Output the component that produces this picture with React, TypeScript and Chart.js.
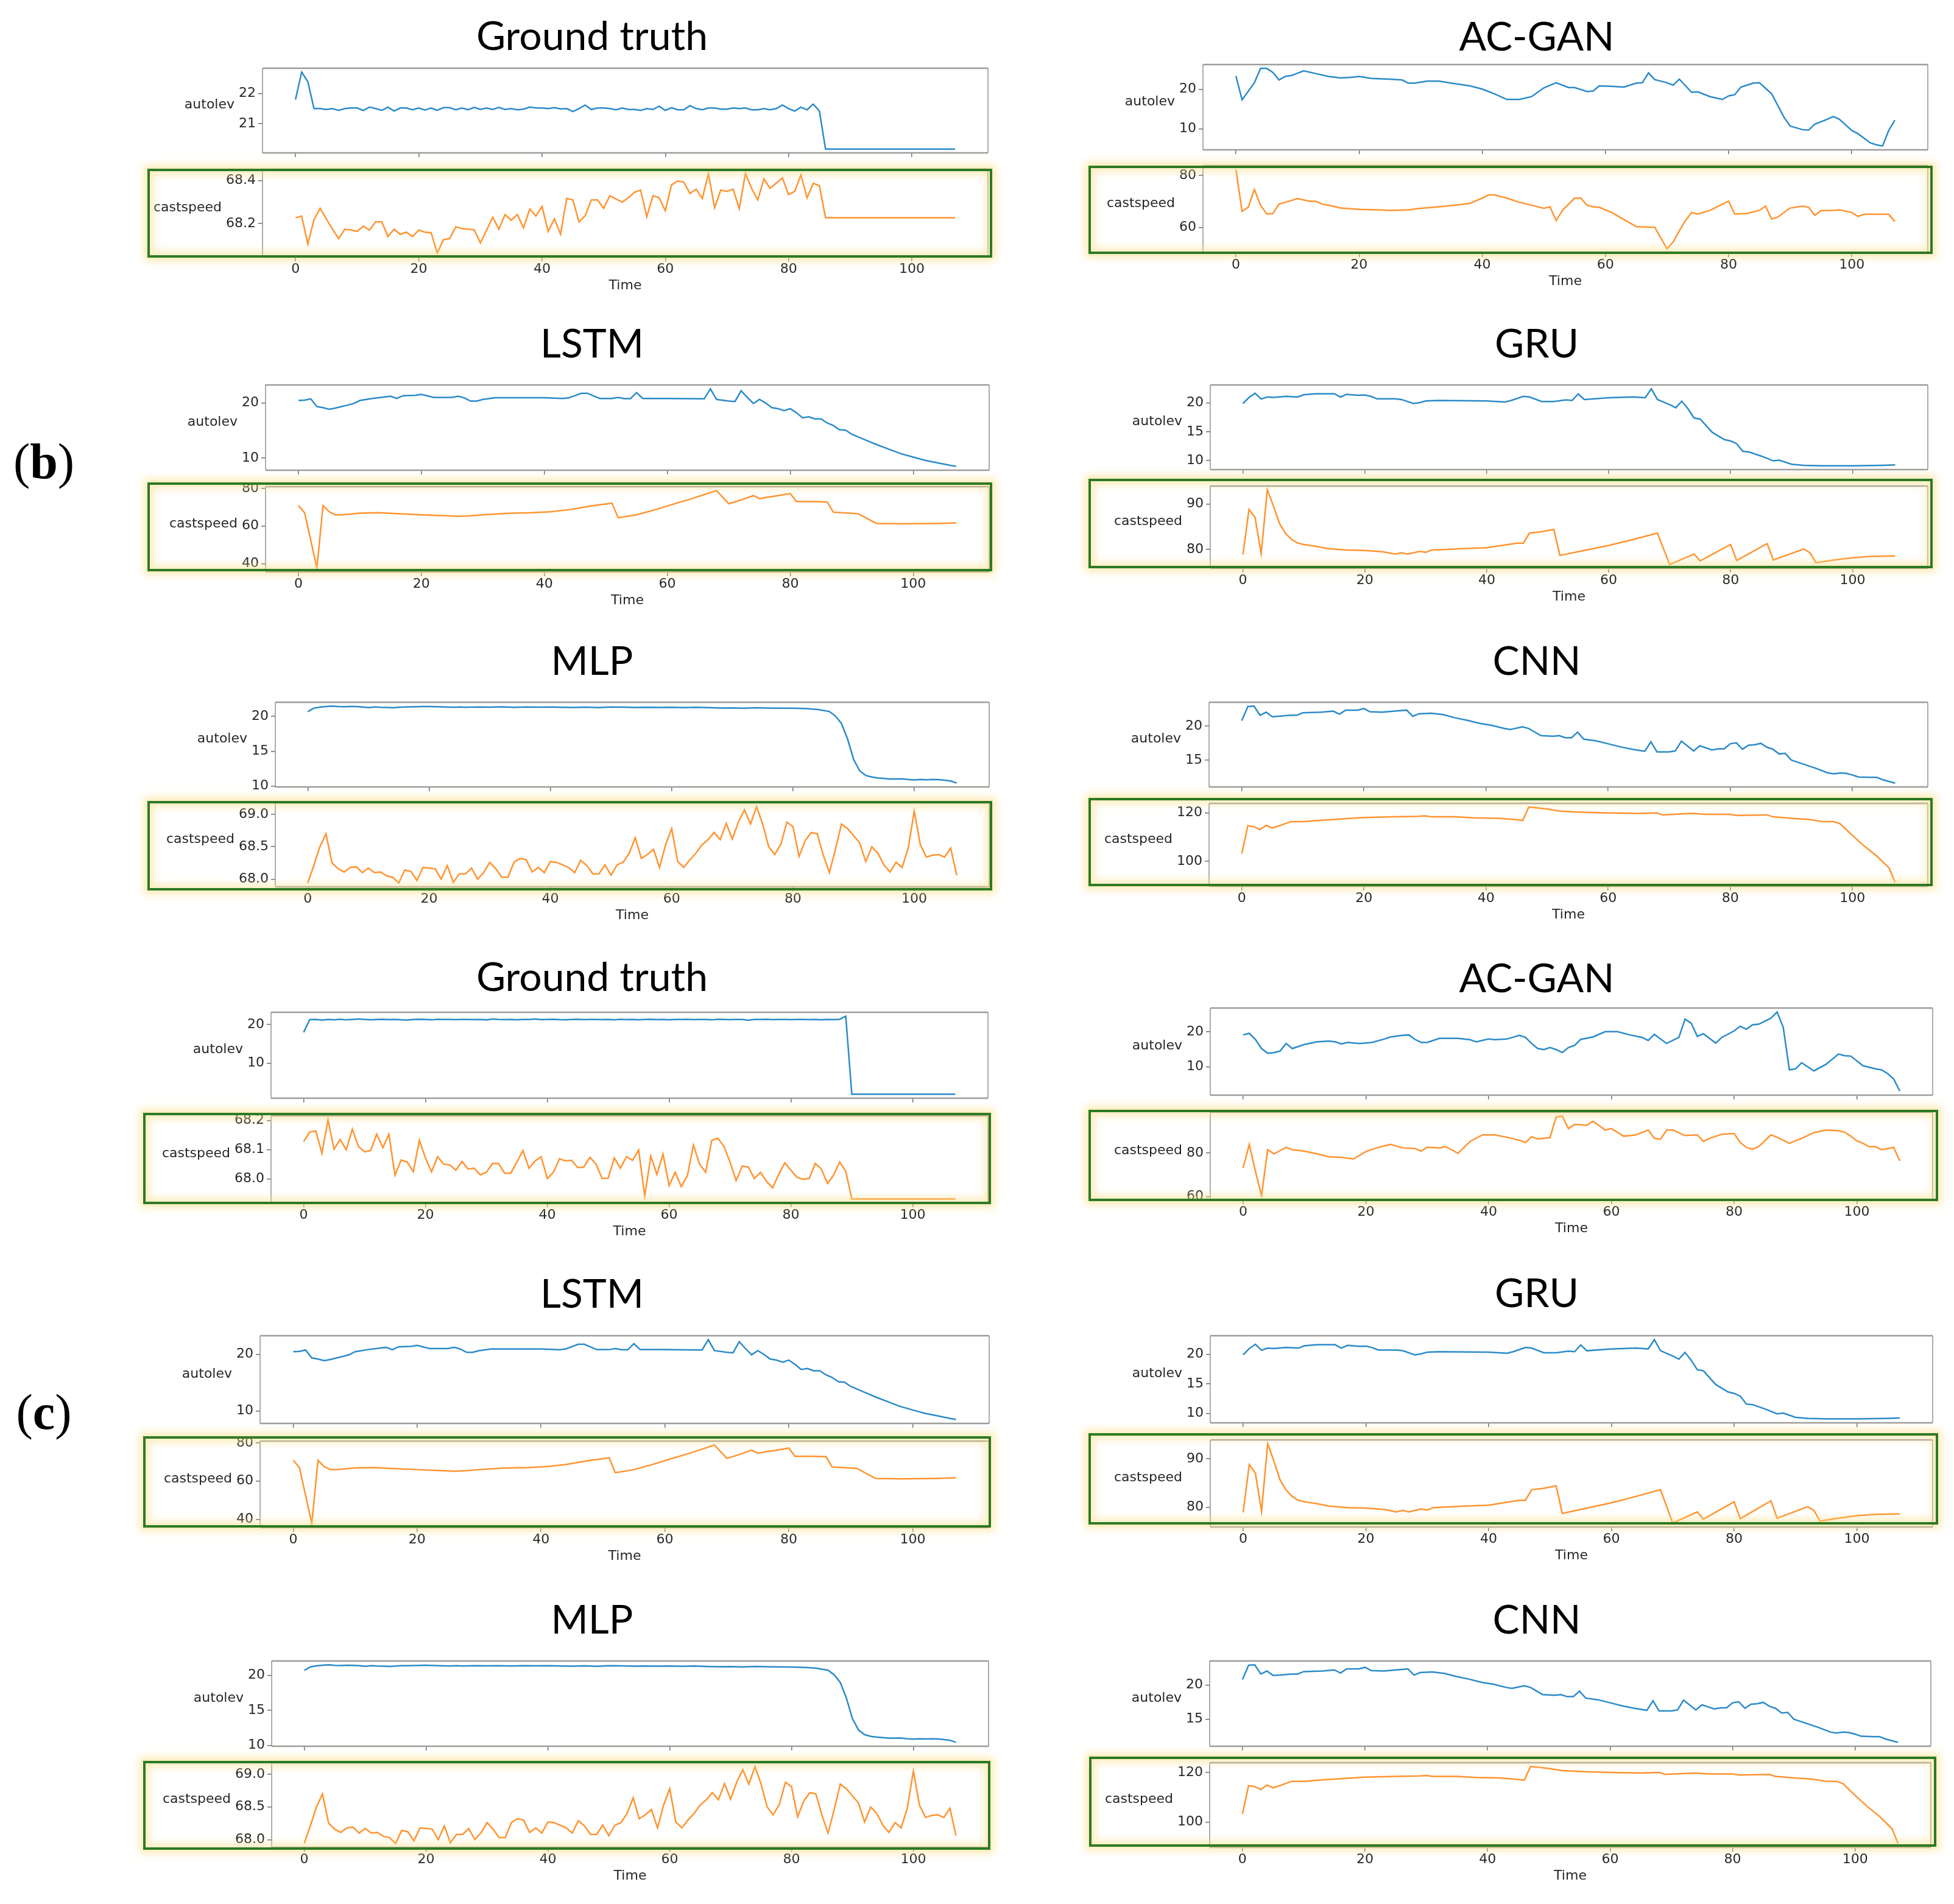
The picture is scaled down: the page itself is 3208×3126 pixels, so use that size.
import React, { useEffect, useRef } from 'react';
import { Chart, registerables } from 'chart.js';

Chart.register(...registerables);
Chart.defaults.font.family = '"DejaVu Sans", sans-serif';

type Pt = [number, number];

// ---------- shared axis data ----------
const TIME_TICKS = [0, 20, 40, 60, 80, 100];
const X_MIN = -5.35;
const X_MAX = 112.35;

// ---------- (b) Ground truth ----------
const GT_B_AUTOLEV: Pt[] = [
  [0, 21.8], [1, 22.72], [2, 22.4], [3, 21.5], [4, 21.5], [5, 21.47], [6, 21.5], [7, 21.44], [8, 21.5], [9, 21.52],
  [10, 21.52], [11, 21.44], [12, 21.55], [13, 21.5], [14, 21.44], [15, 21.55], [16, 21.42], [17, 21.52], [18, 21.52], [19, 21.46],
  [20, 21.52], [21, 21.45], [22, 21.52], [23, 21.44], [24, 21.53], [25, 21.53], [26, 21.46], [27, 21.52], [28, 21.46], [29, 21.54],
  [30, 21.47], [31, 21.52], [32, 21.47], [33, 21.54], [34, 21.47], [35, 21.5], [36, 21.46], [37, 21.48], [38, 21.55], [39, 21.52],
  [40, 21.52], [41, 21.5], [42, 21.53], [43, 21.49], [44, 21.5], [45, 21.4], [46, 21.5], [47, 21.62], [48, 21.47], [49, 21.52],
  [50, 21.52], [51, 21.5], [52, 21.46], [53, 21.52], [54, 21.47], [55, 21.47], [56, 21.44], [57, 21.5], [58, 21.47], [59, 21.58],
  [60, 21.44], [61, 21.53], [62, 21.46], [63, 21.46], [64, 21.6], [65, 21.5], [66, 21.46], [67, 21.52], [68, 21.52], [69, 21.48],
  [70, 21.48], [71, 21.52], [72, 21.5], [73, 21.52], [74, 21.46], [75, 21.46], [76, 21.5], [77, 21.46], [78, 21.5], [79, 21.62],
  [80, 21.5], [81, 21.42], [82, 21.55], [83, 21.46], [84, 21.65], [85, 21.42], [86, 20.15], [107, 20.15],
];
const GT_B_CAST: Pt[] = [
  [0, 68.227], [1, 68.235], [2, 68.105], [3, 68.218], [4, 68.271], [5, 68.222], [6, 68.174], [7, 68.13], [8, 68.174], [9, 68.17],
  [10, 68.164], [11, 68.188], [12, 68.17], [13, 68.208], [14, 68.208], [15, 68.14], [16, 68.174], [17, 68.15], [18, 68.16], [19, 68.14],
  [20, 68.17], [21, 68.16], [22, 68.158], [23, 68.063], [24, 68.125], [25, 68.13], [26, 68.185], [27, 68.177], [28, 68.174], [29, 68.171],
  [30, 68.11], [31, 68.17], [32, 68.23], [33, 68.174], [34, 68.242], [35, 68.216], [36, 68.242], [37, 68.18], [38, 68.268], [39, 68.235],
  [40, 68.28], [41, 68.164], [42, 68.222], [43, 68.151], [44, 68.317], [45, 68.31], [46, 68.208], [47, 68.237], [48, 68.31], [49, 68.31],
  [50, 68.271], [51, 68.33], [52, 68.315], [53, 68.3], [54, 68.32], [55, 68.346], [56, 68.356], [57, 68.232], [58, 68.33], [59, 68.32],
  [60, 68.26], [61, 68.38], [62, 68.398], [63, 68.393], [64, 68.34], [65, 68.36], [66, 68.317], [67, 68.432], [68, 68.274], [69, 68.356],
  [70, 68.35], [71, 68.36], [72, 68.27], [73, 68.434], [74, 68.364], [75, 68.31], [76, 68.408], [77, 68.364], [78, 68.388], [79, 68.413],
  [80, 68.335], [81, 68.35], [82, 68.427], [83, 68.32], [84, 68.388], [85, 68.376], [86, 68.227], [107, 68.227],
];

// ---------- (b) AC-GAN ----------
const ACGAN_B_AUTOLEV: Pt[] = [
  [0, 23.3], [1, 17.3], [3, 21.6], [4, 25.2], [5, 25.2], [6, 24.2], [7, 22.3], [8, 23.2], [9, 23.4], [11, 24.6],
  [13, 23.9], [15, 23.2], [17, 22.8], [19, 23.0], [20, 23.2], [22, 22.7], [25, 22.5], [27, 22.3], [28, 21.5], [29, 21.5],
  [31, 22.0], [33, 22.0], [35, 21.5], [38, 20.8], [40, 20.0], [42, 18.8], [44, 17.4], [46, 17.4], [48, 18.1], [50, 20.3],
  [52, 21.6], [54, 20.4], [55, 20.4], [57, 19.4], [58, 19.5], [59, 20.8], [61, 20.7], [63, 20.5], [65, 21.5], [66, 21.6],
  [67, 24.1], [68, 22.4], [70, 21.6], [71, 21.0], [72, 22.5], [74, 19.2], [75, 19.3], [77, 18.1], [79, 17.4], [80, 18.3],
  [81, 18.6], [82, 20.5], [84, 21.5], [85, 21.6], [87, 18.8], [89, 12.9], [90, 10.7], [92, 9.8], [93, 9.7], [94, 11.2],
  [96, 12.4], [97, 13.1], [98, 12.4], [100, 9.6], [101, 8.8], [103, 6.5], [104, 6.0], [105, 5.7], [106, 9.6], [107, 12.2],
];
const ACGAN_B_CAST: Pt[] = [
  [0, 82.2], [1, 66.2], [2, 67.8], [3, 74.6], [4, 68.6], [5, 65.2], [6, 65.4], [7, 69.0], [9, 70.4], [10, 71.1],
  [12, 70.1], [13, 70.1], [14, 69.0], [15, 68.6], [17, 67.5], [20, 67.0], [23, 66.8], [25, 66.6], [28, 66.8], [30, 67.4],
  [33, 68.0], [36, 68.7], [38, 69.3], [40, 71.3], [41, 72.5], [42, 72.5], [44, 71.3], [46, 69.7], [48, 68.6], [50, 67.4],
  [51, 68.0], [52, 62.7], [53, 66.6], [55, 71.3], [56, 71.3], [57, 68.6], [58, 68.0], [59, 67.8], [61, 65.8], [63, 63.1],
  [65, 60.4], [67, 60.2], [68, 60.2], [70, 51.9], [71, 54.5], [72, 58.8], [73, 62.7], [74, 65.8], [75, 65.2], [77, 66.6],
  [79, 69.0], [80, 70.1], [81, 65.2], [83, 65.4], [85, 66.6], [86, 68.2], [87, 63.3], [88, 64.1], [90, 67.5], [92, 68.2],
  [93, 67.8], [94, 64.7], [95, 66.5], [97, 66.6], [98, 66.8], [100, 65.8], [101, 64.3], [102, 65.1], [104, 65.1], [106, 65.1],
  [107, 62.3],
];

// ---------- LSTM ----------
const LSTM_AUTOLEV: Pt[] = [
  [0, 20.44], [1, 20.5], [2, 20.74], [3, 19.33], [4, 19.15], [5, 18.85], [6, 19.07], [7, 19.33], [8, 19.6], [9, 19.9],
  [10, 20.44], [12, 20.8], [14, 21.07], [15, 21.2], [16, 20.8], [17, 21.3], [19, 21.37], [20, 21.55], [21, 21.26], [22, 21.0],
  [25, 21.0], [26, 21.2], [27, 20.9], [28, 20.33], [29, 20.33], [30, 20.63], [32, 20.93], [35, 20.93], [40, 20.93], [43, 20.8],
  [44, 20.93], [46, 21.74], [47, 21.74], [49, 20.8], [51, 20.8], [52, 21.0], [53, 20.78], [54, 20.78], [55, 21.85], [56, 20.8],
  [60, 20.8], [66, 20.74], [67, 22.55], [68, 20.63], [70, 20.33], [71, 20.26], [72, 22.2], [73, 21.0], [74, 19.9], [75, 20.63],
  [76, 19.96], [77, 19.15], [78, 18.96], [79, 18.6], [80, 18.96], [81, 18.22], [82, 17.3], [83, 17.48], [84, 17.1], [85, 17.1],
  [86, 16.37], [87, 15.9], [88, 15.15], [89, 15.07], [90, 14.33], [92, 13.4], [94, 12.48], [96, 11.63], [98, 10.81], [100, 10.19],
  [102, 9.59], [104, 9.15], [106, 8.7], [107, 8.52],
];
const LSTM_CAST: Pt[] = [
  [0, 70.9], [1, 67.1], [3, 37.7], [4, 70.9], [5, 67.6], [6, 66.0], [7, 66.0], [10, 66.9], [13, 67.1], [16, 66.6],
  [20, 66.0], [24, 65.5], [26, 65.2], [28, 65.5], [30, 66.0], [34, 66.8], [38, 67.1], [41, 67.6], [44, 68.7], [46, 69.8],
  [48, 70.9], [50, 71.7], [51, 72.2], [52, 64.4], [55, 66.0], [58, 68.7], [61, 71.7], [64, 74.6], [67, 77.8], [68, 78.9],
  [70, 71.9], [72, 73.9], [74, 76.2], [75, 74.6], [76, 75.2], [78, 76.2], [80, 77.3], [81, 73.0], [84, 73.0], [86, 72.8],
  [87, 67.4], [90, 66.8], [91, 66.6], [92, 64.9], [94, 61.4], [98, 61.2], [104, 61.4], [107, 61.7],
];

// ---------- GRU ----------
const GRU_AUTOLEV: Pt[] = [
  [0, 19.9], [1, 20.96], [2, 21.68], [3, 20.68], [4, 21.04], [5, 20.96], [7, 21.14], [9, 21.04], [10, 21.43], [12, 21.6],
  [15, 21.6], [16, 21.04], [17, 21.5], [19, 21.32], [20, 21.39], [21, 21.14], [22, 20.71], [25, 20.71], [26, 20.6], [28, 19.9],
  [29, 20.07], [30, 20.36], [32, 20.43], [40, 20.36], [43, 20.18], [44, 20.43], [46, 21.14], [47, 21.04], [49, 20.25], [51, 20.25],
  [53, 20.54], [54, 20.43], [55, 21.57], [56, 20.6], [60, 20.9], [64, 21.04], [66, 20.9], [67, 22.46], [68, 20.6], [70, 19.71],
  [71, 19.18], [72, 20.32], [73, 19.0], [74, 17.39], [75, 17.21], [77, 14.89], [79, 13.64], [80, 13.4], [81, 12.93], [82, 11.6],
  [83, 11.5], [85, 10.79], [87, 9.96], [88, 10.07], [90, 9.36], [92, 9.18], [95, 9.1], [100, 9.1], [105, 9.18], [107, 9.25],
];
const GRU_CAST: Pt[] = [
  [0, 78.9], [1, 88.8], [2, 87.0], [3, 79.1], [4, 93.1], [5, 89.6], [6, 85.7], [7, 83.5], [8, 82.2], [9, 81.4],
  [10, 81.1], [12, 80.7], [14, 80.2], [17, 79.9], [20, 79.8], [23, 79.5], [25, 79.0], [26, 79.3], [27, 79.0], [29, 79.6],
  [30, 79.4], [31, 79.9], [33, 80.0], [36, 80.2], [40, 80.4], [42, 80.8], [45, 81.4], [46, 81.4], [47, 83.6], [49, 83.9],
  [51, 84.4], [52, 78.7], [56, 79.8], [60, 80.9], [64, 82.2], [68, 83.6], [70, 76.7], [74, 79.0], [75, 77.5], [80, 81.1],
  [81, 77.6], [86, 81.3], [87, 77.7], [92, 80.1], [93, 79.3], [94, 77.1], [97, 77.7], [100, 78.2], [103, 78.5], [107, 78.6],
];

// ---------- MLP ----------
const MLP_AUTOLEV: Pt[] = [
  [0, 20.68], [1, 21.18], [2, 21.32], [3, 21.42], [4, 21.47], [5, 21.4], [6, 21.38], [7, 21.42], [8, 21.4], [9, 21.35],
  [10, 21.26], [11, 21.34], [12, 21.3], [13, 21.28], [14, 21.24], [15, 21.3], [16, 21.34], [17, 21.36], [18, 21.38], [19, 21.4],
  [20, 21.42], [22, 21.36], [24, 21.3], [25, 21.34], [26, 21.3], [28, 21.34], [30, 21.32], [32, 21.36], [34, 21.3], [36, 21.34],
  [38, 21.32], [40, 21.34], [42, 21.3], [44, 21.28], [46, 21.32], [48, 21.26], [50, 21.34], [52, 21.32], [54, 21.28], [56, 21.3],
  [58, 21.28], [60, 21.3], [62, 21.26], [64, 21.3], [66, 21.25], [68, 21.2], [70, 21.22], [72, 21.18], [74, 21.24], [76, 21.2],
  [78, 21.18], [80, 21.16], [82, 21.12], [84, 21.0], [86, 20.7], [87, 20.05], [88, 18.97], [89, 16.76], [90, 13.82], [91, 12.2],
  [92, 11.53], [93, 11.3], [94, 11.18], [96, 11.03], [98, 11.05], [99, 10.95], [100, 10.9], [101, 10.95], [102, 10.92], [103, 10.95],
  [104, 10.93], [105, 10.85], [106, 10.74], [107, 10.44],
];
const MLP_CAST: Pt[] = [
  [0, 67.94], [1, 68.21], [2, 68.5], [3, 68.7], [4, 68.25], [5, 68.16], [6, 68.11], [7, 68.18], [8, 68.19], [9, 68.1],
  [10, 68.17], [11, 68.1], [12, 68.11], [13, 68.05], [14, 68.03], [15, 67.94], [16, 68.14], [17, 68.12], [18, 67.98], [19, 68.18],
  [20, 68.17], [21, 68.16], [22, 68.0], [23, 68.21], [24, 67.95], [25, 68.08], [26, 68.08], [27, 68.17], [28, 68.0], [29, 68.1],
  [30, 68.26], [31, 68.16], [32, 68.03], [33, 68.03], [34, 68.26], [35, 68.32], [36, 68.3], [37, 68.11], [38, 68.18], [39, 68.1],
  [40, 68.27], [41, 68.26], [42, 68.22], [43, 68.18], [44, 68.1], [45, 68.29], [46, 68.21], [47, 68.08], [48, 68.08], [49, 68.22],
  [50, 68.06], [51, 68.22], [52, 68.26], [53, 68.4], [54, 68.64], [55, 68.32], [56, 68.38], [57, 68.46], [58, 68.18], [59, 68.53],
  [60, 68.78], [61, 68.27], [62, 68.18], [63, 68.3], [64, 68.4], [65, 68.53], [66, 68.61], [67, 68.72], [68, 68.61], [69, 68.86],
  [70, 68.62], [71, 68.88], [72, 69.07], [73, 68.85], [74, 69.12], [75, 68.85], [76, 68.5], [77, 68.38], [78, 68.54], [79, 68.88],
  [80, 68.81], [81, 68.35], [82, 68.59], [83, 68.72], [84, 68.7], [85, 68.37], [86, 68.1], [87, 68.46], [88, 68.85], [89, 68.78],
  [90, 68.67], [91, 68.56], [92, 68.27], [93, 68.5], [94, 68.4], [95, 68.22], [96, 68.11], [97, 68.26], [98, 68.18], [99, 68.48],
  [100, 69.05], [101, 68.53], [102, 68.34], [103, 68.37], [104, 68.38], [105, 68.34], [106, 68.48], [107, 68.06],
];

// ---------- CNN ----------
const CNN_AUTOLEV: Pt[] = [
  [0, 20.78], [1, 22.87], [2, 22.93], [3, 21.59], [4, 22.04], [5, 21.38], [6, 21.44], [8, 21.59], [9, 21.59], [10, 21.95],
  [13, 22.04], [15, 22.19], [16, 21.74], [17, 22.34], [19, 22.34], [20, 22.57], [21, 22.1], [23, 22.04], [25, 22.19], [27, 22.34],
  [28, 21.44], [29, 21.8], [31, 21.89], [33, 21.68], [35, 21.2], [37, 20.84], [39, 20.39], [41, 20.09], [43, 19.64], [44, 19.49],
  [45, 19.7], [46, 19.88], [47, 19.64], [49, 18.59], [51, 18.5], [52, 18.59], [53, 18.29], [54, 18.29], [55, 19.1], [56, 18.08],
  [58, 17.84], [60, 17.4], [62, 16.95], [64, 16.59], [66, 16.29], [67, 17.69], [68, 16.2], [70, 16.2], [71, 16.35], [72, 17.78],
  [74, 16.35], [75, 17.1], [76, 16.8], [77, 16.5], [78, 16.65], [79, 16.65], [80, 17.4], [81, 17.54], [82, 16.59], [83, 17.19],
  [84, 17.25], [85, 17.46], [86, 16.89], [87, 16.59], [88, 15.9], [89, 15.99], [90, 15.0], [92, 14.4], [94, 13.8], [96, 13.11],
  [97, 12.99], [98, 13.11], [99, 13.05], [100, 12.81], [101, 12.51], [103, 12.46], [104, 12.46], [105, 12.1], [106, 11.86], [107, 11.62],
];
const CNN_CAST: Pt[] = [
  [0, 103.2], [1, 114.7], [2, 114.3], [3, 113.1], [4, 114.9], [5, 113.8], [6, 114.6], [7, 115.5], [8, 116.4], [10, 116.4],
  [12, 116.8], [15, 117.3], [18, 117.8], [20, 118.1], [25, 118.4], [29, 118.6], [30, 118.8], [31, 118.4], [35, 118.4], [38, 118.0],
  [42, 117.8], [45, 117.2], [46, 116.9], [47, 122.4], [48, 122.2], [50, 121.6], [52, 120.8], [55, 120.4], [60, 120.0], [65, 119.8],
  [68, 120.0], [69, 119.2], [72, 119.6], [74, 119.8], [76, 119.4], [80, 119.4], [81, 119.0], [86, 119.2], [87, 118.4], [90, 117.8],
  [93, 117.3], [95, 116.5], [97, 116.4], [98, 115.5], [100, 110.7], [102, 106.2], [104, 102.2], [106, 97.3], [107, 91.3],
];

// ---------- (c) Ground truth ----------
const GT_C_AUTOLEV: Pt[] = [
  [0, 17.97], [1, 21.25], [2, 21.3], [3, 21.15], [4, 21.3], [5, 21.2], [6, 21.35], [7, 21.2], [8, 21.3], [9, 21.4],
  [10, 21.3], [11, 21.2], [12, 21.3], [13, 21.35], [14, 21.25], [15, 21.3], [16, 21.2], [17, 21.15], [18, 21.3], [19, 21.35],
  [20, 21.3], [21, 21.2], [22, 21.35], [23, 21.3], [24, 21.3], [25, 21.25], [26, 21.3], [27, 21.3], [28, 21.25], [29, 21.3],
  [30, 21.2], [31, 21.4], [32, 21.3], [33, 21.25], [34, 21.3], [35, 21.2], [36, 21.3], [37, 21.3], [38, 21.4], [39, 21.25],
  [40, 21.3], [41, 21.35], [42, 21.25], [43, 21.2], [44, 21.3], [45, 21.35], [46, 21.25], [47, 21.3], [48, 21.3], [49, 21.25],
  [50, 21.3], [51, 21.2], [52, 21.35], [53, 21.25], [54, 21.3], [55, 21.2], [56, 21.3], [57, 21.35], [58, 21.25], [59, 21.3],
  [60, 21.2], [61, 21.3], [62, 21.3], [63, 21.35], [64, 21.25], [65, 21.3], [66, 21.3], [67, 21.2], [68, 21.35], [69, 21.3],
  [70, 21.25], [71, 21.3], [72, 21.3], [73, 21.1], [74, 21.3], [75, 21.3], [76, 21.35], [77, 21.25], [78, 21.3], [79, 21.3],
  [80, 21.25], [81, 21.3], [82, 21.3], [83, 21.25], [84, 21.3], [85, 21.2], [86, 21.3], [87, 21.25], [88, 21.35], [89, 22.14],
  [90, 1.93], [107, 1.93],
];
const GT_C_CAST: Pt[] = [
  [0, 68.128], [1, 68.16], [2, 68.164], [3, 68.088], [4, 68.202], [5, 68.102], [6, 68.135], [7, 68.1], [8, 68.17], [9, 68.111],
  [10, 68.093], [11, 68.097], [12, 68.153], [13, 68.107], [14, 68.153], [15, 68.013], [16, 68.065], [17, 68.058], [18, 68.025], [19, 68.132],
  [20, 68.072], [21, 68.025], [22, 68.076], [23, 68.051], [24, 68.048], [25, 68.03], [26, 68.06], [27, 68.034], [28, 68.037], [29, 68.014],
  [30, 68.023], [31, 68.053], [32, 68.053], [33, 68.02], [34, 68.02], [35, 68.058], [36, 68.097], [37, 68.037], [38, 68.062], [39, 68.076],
  [40, 68.002], [41, 68.023], [42, 68.069], [43, 68.062], [44, 68.064], [45, 68.039], [46, 68.041], [47, 68.074], [48, 68.051], [49, 68.002],
  [50, 68.003], [51, 68.072], [52, 68.037], [53, 68.076], [54, 68.064], [55, 68.099], [56, 67.942], [57, 68.078], [58, 68.016], [59, 68.085],
  [60, 67.978], [61, 68.023], [62, 67.974], [63, 68.011], [64, 68.116], [65, 68.051], [66, 68.023], [67, 68.132], [68, 68.139], [69, 68.111],
  [70, 68.058], [71, 67.995], [72, 68.044], [73, 68.041], [74, 68.002], [75, 68.023], [76, 67.992], [77, 67.97], [78, 68.016], [79, 68.055],
  [80, 68.03], [81, 68.006], [82, 67.999], [83, 68.002], [84, 68.053], [85, 68.034], [86, 67.985], [87, 68.013], [88, 68.058], [89, 68.027],
  [90, 67.932], [107, 67.932],
];

// ---------- (c) AC-GAN ----------
const ACGAN_C_AUTOLEV: Pt[] = [
  [0, 19.08], [1, 19.54], [2, 17.8], [3, 15.2], [4, 13.87], [5, 14.05], [6, 14.45], [7, 16.65], [8, 15.2], [10, 16.36],
  [12, 17.1], [14, 17.34], [15, 17.1], [16, 16.53], [17, 16.94], [19, 16.65], [21, 16.94], [23, 17.92], [24, 18.5], [26, 18.96],
  [27, 19.08], [28, 17.8], [29, 16.94], [30, 16.94], [32, 18.1], [35, 18.1], [37, 17.7], [38, 17.1], [40, 17.92], [41, 17.7],
  [43, 17.92], [45, 18.96], [46, 18.38], [47, 16.65], [48, 15.2], [49, 14.9], [50, 15.5], [51, 14.9], [52, 14.05], [53, 15.5],
  [54, 16.07], [55, 17.8], [57, 18.5], [59, 20.0], [61, 20.0], [63, 19.08], [65, 18.38], [66, 17.51], [67, 19.25], [69, 16.65],
  [71, 18.38], [72, 23.58], [73, 22.43], [74, 18.67], [75, 19.42], [77, 16.76], [78, 18.38], [80, 20.23], [81, 21.56], [82, 20.69],
  [83, 21.97], [84, 22.14], [85, 23.0], [86, 23.87], [87, 25.61], [88, 21.27], [89, 9.13], [90, 9.42], [91, 11.16], [93, 8.84],
  [95, 10.75], [97, 13.64], [98, 13.18], [99, 13.06], [101, 10.29], [103, 9.42], [104, 9.13], [105, 8.09], [106, 6.53], [107, 3.06],
];
const ACGAN_C_CAST: Pt[] = [
  [0, 73.1], [1, 84.0], [2, 71.7], [3, 60.3], [4, 81.6], [5, 79.7], [6, 81.1], [7, 82.6], [8, 81.6], [10, 80.9],
  [12, 79.7], [14, 78.3], [16, 78.0], [18, 77.3], [20, 80.7], [22, 82.6], [24, 84.0], [26, 82.4], [28, 82.1], [29, 80.9],
  [30, 82.7], [32, 82.4], [33, 83.0], [35, 79.9], [37, 85.4], [39, 88.4], [41, 88.4], [43, 87.3], [45, 85.9], [46, 84.9],
  [47, 87.5], [48, 86.5], [50, 87.1], [51, 96.6], [52, 97.0], [53, 91.3], [54, 93.2], [56, 92.8], [57, 94.7], [59, 90.6],
  [60, 91.3], [62, 87.8], [64, 88.4], [66, 90.6], [67, 86.8], [68, 86.4], [69, 90.6], [70, 90.6], [72, 88.1], [74, 88.4],
  [75, 85.4], [76, 86.8], [78, 88.7], [80, 89.0], [81, 84.9], [82, 82.6], [83, 81.8], [84, 83.0], [86, 88.4], [87, 87.3],
  [89, 84.5], [91, 86.8], [93, 89.4], [95, 90.6], [97, 90.3], [98, 89.7], [99, 87.8], [100, 85.6], [101, 84.5], [102, 83.0],
  [103, 83.0], [104, 81.6], [105, 82.1], [106, 82.6], [107, 76.4],
];

// ---------- y tick values ----------
const TICKS_GT_B_AUTOLEV = [21, 22];
const TICKS_GT_B_CAST = [68.2, 68.4];
const TICKS_ACGAN_AUTOLEV = [10, 20];
const TICKS_ACGAN_CAST = [60, 80];
const TICKS_LSTM_AUTOLEV = [10, 20];
const TICKS_LSTM_CAST = [40, 60, 80];
const TICKS_GRU_AUTOLEV = [10, 15, 20];
const TICKS_GRU_CAST = [80, 90];
const TICKS_MLP_AUTOLEV = [10, 15, 20];
const TICKS_MLP_CAST = [68.0, 68.5, 69.0];
const TICKS_CNN_AUTOLEV = [15, 20];
const TICKS_CNN_CAST = [100, 120];
const TICKS_GT_C_AUTOLEV = [10, 20];
const TICKS_GT_C_CAST = [68.0, 68.1, 68.2];

// ---------- styling / layout ----------
const BLUE = '#2a8bc9';
const ORANGE = '#ff9430';
const TEXT = '#262626';
const PAD_T = 4;
const PAD_R = 6;
const X_AXIS_H = 60;
const COL_LEFT = [200, 1760];
const TITLE_X = [972, 2523];

type PanelSpec = {
  title: string; col: number; titleY: number;
  plotL: number; plotR: number; aT: number; aB: number; cT: number; cB: number;
  gL: number; gT: number; gR: number; gB: number;
  auto: Pt[]; autoTicks: number[]; autoDec: number;
  cast: Pt[]; castTicks: number[]; castDec: number;
};

const PANELS: PanelSpec[] = [
  { title: 'Ground truth', col: 0, titleY: 58, plotL: 431, plotR: 1622, aT: 112, aB: 251, cT: 278, cB: 422, gL: 242, gT: 277, gR: 1629, gB: 423,
    auto: GT_B_AUTOLEV, autoTicks: TICKS_GT_B_AUTOLEV, autoDec: 0, cast: GT_B_CAST, castTicks: TICKS_GT_B_CAST, castDec: 1 },
  { title: 'AC-GAN', col: 1, titleY: 59, plotL: 1975, plotR: 3165, aT: 106, aB: 246, cT: 272, cB: 415, gL: 1787, gT: 272, gR: 3173, gB: 417,
    auto: ACGAN_B_AUTOLEV, autoTicks: TICKS_ACGAN_AUTOLEV, autoDec: 0, cast: ACGAN_B_CAST, castTicks: TICKS_ACGAN_CAST, castDec: 0 },
  { title: 'LSTM', col: 0, titleY: 563, plotL: 436, plotR: 1624, aT: 632, aB: 772, cT: 799, cB: 939, gL: 242, gT: 792, gR: 1629, gB: 938,
    auto: LSTM_AUTOLEV, autoTicks: TICKS_LSTM_AUTOLEV, autoDec: 0, cast: LSTM_CAST, castTicks: TICKS_LSTM_CAST, castDec: 0 },
  { title: 'GRU', col: 1, titleY: 563, plotL: 1987, plotR: 3165, aT: 632, aB: 771, cT: 798, cB: 933, gL: 1787, gT: 786, gR: 3173, gB: 933,
    auto: GRU_AUTOLEV, autoTicks: TICKS_GRU_AUTOLEV, autoDec: 0, cast: GRU_CAST, castTicks: TICKS_GRU_CAST, castDec: 0 },
  { title: 'MLP', col: 0, titleY: 1084, plotL: 452, plotR: 1624, aT: 1153, aB: 1292, cT: 1318, cB: 1456, gL: 242, gT: 1315, gR: 1629, gB: 1462,
    auto: MLP_AUTOLEV, autoTicks: TICKS_MLP_AUTOLEV, autoDec: 0, cast: MLP_CAST, castTicks: TICKS_MLP_CAST, castDec: 1 },
  { title: 'CNN', col: 1, titleY: 1084, plotL: 1985, plotR: 3165, aT: 1153, aB: 1292, cT: 1319, cB: 1455, gL: 1787, gT: 1310, gR: 3173, gB: 1455,
    auto: CNN_AUTOLEV, autoTicks: TICKS_CNN_AUTOLEV, autoDec: 0, cast: CNN_CAST, castTicks: TICKS_CNN_CAST, castDec: 0 },
  { title: 'Ground truth', col: 0, titleY: 1603, plotL: 445, plotR: 1622, aT: 1662, aB: 1803, cT: 1832, cB: 1975, gL: 235, gT: 1827, gR: 1627, gB: 1977,
    auto: GT_C_AUTOLEV, autoTicks: TICKS_GT_C_AUTOLEV, autoDec: 0, cast: GT_C_CAST, castTicks: TICKS_GT_C_CAST, castDec: 1 },
  { title: 'AC-GAN', col: 1, titleY: 1605, plotL: 1987, plotR: 3173, aT: 1655, aB: 1798, cT: 1826, cB: 1970, gL: 1787, gT: 1822, gR: 3182, gB: 1972,
    auto: ACGAN_C_AUTOLEV, autoTicks: TICKS_ACGAN_AUTOLEV, autoDec: 0, cast: ACGAN_C_CAST, castTicks: TICKS_ACGAN_CAST, castDec: 0 },
  { title: 'LSTM', col: 0, titleY: 2123, plotL: 427, plotR: 1624, aT: 2193, aB: 2337, cT: 2366, cB: 2508, gL: 235, gT: 2358, gR: 1627, gB: 2508,
    auto: LSTM_AUTOLEV, autoTicks: TICKS_LSTM_AUTOLEV, autoDec: 0, cast: LSTM_CAST, castTicks: TICKS_LSTM_CAST, castDec: 0 },
  { title: 'GRU', col: 1, titleY: 2122, plotL: 1987, plotR: 3173, aT: 2193, aB: 2336, cT: 2364, cB: 2507, gL: 1787, gT: 2353, gR: 3182, gB: 2503,
    auto: GRU_AUTOLEV, autoTicks: TICKS_GRU_AUTOLEV, autoDec: 0, cast: GRU_CAST, castTicks: TICKS_GRU_CAST, castDec: 0 },
  { title: 'MLP', col: 0, titleY: 2658, plotL: 446, plotR: 1623, aT: 2727, aB: 2867, cT: 2894, cB: 3033, gL: 235, gT: 2891, gR: 1626, gB: 3037,
    auto: MLP_AUTOLEV, autoTicks: TICKS_MLP_AUTOLEV, autoDec: 0, cast: MLP_CAST, castTicks: TICKS_MLP_CAST, castDec: 1 },
  { title: 'CNN', col: 1, titleY: 2658, plotL: 1986, plotR: 3170, aT: 2727, aB: 2867, cT: 2894, cB: 3033, gL: 1788, gT: 2884, gR: 3179, gB: 3032,
    auto: CNN_AUTOLEV, autoTicks: TICKS_CNN_AUTOLEV, autoDec: 0, cast: CNN_CAST, castTicks: TICKS_CNN_CAST, castDec: 0 },
];

const framePlugin = {
  id: 'frame',
  afterDraw(chart: any, _args: any, opts: any) {
    const { ctx, chartArea } = chart;
    const { left, right, top, bottom } = chartArea;
    ctx.save();
    ctx.strokeStyle = '#9c9c9c';
    ctx.lineWidth = 2.6;
    ctx.beginPath();
    ctx.moveTo(left, top); ctx.lineTo(right, top);
    ctx.moveTo(left, bottom); ctx.lineTo(right, bottom);
    ctx.stroke();
    ctx.strokeStyle = '#8a8a8a';
    ctx.lineWidth = 1.4;
    ctx.beginPath();
    ctx.moveTo(left, top); ctx.lineTo(left, bottom);
    ctx.moveTo(right, top); ctx.lineTo(right, bottom);
    ctx.stroke();
    // horizontal y-label placed left of the tick labels (matplotlib rotation=0 style)
    ctx.font = '22px "DejaVu Sans"';
    let maxW = 0;
    for (const t of chart.scales.y.ticks) {
      maxW = Math.max(maxW, ctx.measureText(Number(t.value).toFixed(opts.dec)).width);
    }
    ctx.fillStyle = TEXT;
    ctx.textAlign = 'right';
    ctx.textBaseline = 'bottom';
    ctx.fillText(opts.label, left - 7 - 4 - maxW - 7, (top + bottom) / 2 + 2);
    ctx.restore();
  },
};

type SubProps = {
  left: number; plotL: number; plotR: number; plotT: number; plotB: number;
  data: Pt[]; ticks: number[]; dec: number; label: string; color: string; showX: boolean;
};

function Subplot({ left, plotL, plotR, plotT, plotB, data, ticks, dec, label, color, showX }: SubProps) {
  const ref = useRef<HTMLCanvasElement>(null);
  const top = plotT - PAD_T;
  const xAxisH = showX ? X_AXIS_H : 12;
  const width = plotR + PAD_R - left;
  const height = plotB + xAxisH - top;

  useEffect(() => {
    const vals = data.map((p) => p[1]);
    const lo = Math.min(...vals);
    const hi = Math.max(...vals);
    const m = (hi - lo) * 0.05;
    const chart = new Chart(ref.current as HTMLCanvasElement, {
      type: 'line',
      data: {
        datasets: [{
          data: data.map(([x, y]) => ({ x, y })),
          borderColor: color,
          borderWidth: 2.5,
          pointRadius: 0,
          tension: 0,
          fill: false,
        }],
      },
      options: {
        animation: false,
        responsive: false,
        events: [],
        layout: { padding: { top: PAD_T, right: PAD_R, left: 0, bottom: 0 } },
        plugins: {
          legend: { display: false },
          tooltip: { enabled: false },
          frame: { label, dec },
        } as any,
        scales: {
          x: {
            type: 'linear',
            min: X_MIN,
            max: X_MAX,
            afterBuildTicks: (s: any) => { s.ticks = TIME_TICKS.map((v) => ({ value: v })); },
            afterFit: (s: any) => { s.height = xAxisH; s.paddingLeft = 0; s.paddingRight = 0; },
            ticks: {
              display: showX,
              autoSkip: false,
              maxRotation: 0,
              padding: 2,
              color: TEXT,
              font: { size: 22, lineHeight: 1 },
              callback: (v: any) => String(v),
            },
            grid: { drawOnChartArea: false, drawTicks: true, tickLength: 7, color: '#6e6e6e', lineWidth: 1.5 },
            border: { display: false },
            title: { display: showX, text: 'Time', color: TEXT, font: { size: 22, lineHeight: 1.2 }, padding: 0 },
          },
          y: {
            type: 'linear',
            min: lo - m,
            max: hi + m,
            afterBuildTicks: (s: any) => { s.ticks = ticks.map((v) => ({ value: v })); },
            afterFit: (s: any) => { s.width = plotL - left; s.paddingTop = 0; s.paddingBottom = 0; },
            ticks: {
              autoSkip: false,
              padding: 4,
              color: TEXT,
              font: { size: 22 },
              callback: (v: any) => Number(v).toFixed(dec),
            },
            grid: { drawOnChartArea: false, drawTicks: true, tickLength: 7, color: '#6e6e6e', lineWidth: 1.5 },
            border: { display: false },
          },
        },
      } as any,
      plugins: [framePlugin as any],
    });
    return () => chart.destroy();
  }, []);

  return (
    <canvas
      ref={ref}
      width={width}
      height={height}
      style={{ position: 'absolute', left, top, width, height, display: 'block' }}
    />
  );
}

function Panel({ p }: { p: PanelSpec }) {
  const left = COL_LEFT[p.col];
  return (
    <>
      <div
        style={{
          position: 'absolute', left: TITLE_X[p.col], top: p.titleY, transform: 'translate(-50%, -52%)',
          fontFamily: 'Lato, sans-serif', fontSize: 66, lineHeight: 1, color: '#000', whiteSpace: 'nowrap',
        }}
      >
        {p.title}
      </div>
      <Subplot left={left} plotL={p.plotL} plotR={p.plotR} plotT={p.aT} plotB={p.aB}
        data={p.auto} ticks={p.autoTicks} dec={p.autoDec} label="autolev" color={BLUE} showX={false} />
      <Subplot left={left} plotL={p.plotL} plotR={p.plotR} plotT={p.cT} plotB={p.cB}
        data={p.cast} ticks={p.castTicks} dec={p.castDec} label="castspeed" color={ORANGE} showX={true} />
      <div
        style={{
          position: 'absolute', left: p.gL, top: p.gT, width: p.gR - p.gL, height: p.gB - p.gT,
          boxSizing: 'border-box', border: '4px solid #2c7a22', pointerEvents: 'none', zIndex: 2,
          boxShadow: '0 0 12px 6px rgba(253, 222, 135, 0.6), inset 0 0 12px 7px rgba(253, 222, 135, 0.5)',
        }}
      />
    </>
  );
}

function SectionLabel({ letter, y }: { letter: string; y: number }) {
  return (
    <div
      style={{
        position: 'absolute', left: 72, top: y, transform: 'translate(-50%, -58%)',
        fontFamily: '"Liberation Serif", serif', fontSize: 82, lineHeight: 1, color: '#000', whiteSpace: 'nowrap',
      }}
    >
      (<b>{letter}</b>)
    </div>
  );
}

export default function App() {
  return (
    <div style={{ position: 'absolute', left: 0, top: 0, width: 3208, height: 3126, background: '#fff', overflow: 'hidden' }}>
      {PANELS.map((p, i) => <Panel key={i} p={p} />)}
      <SectionLabel letter="b" y={765} />
      <SectionLabel letter="c" y={2326} />
    </div>
  );
}
